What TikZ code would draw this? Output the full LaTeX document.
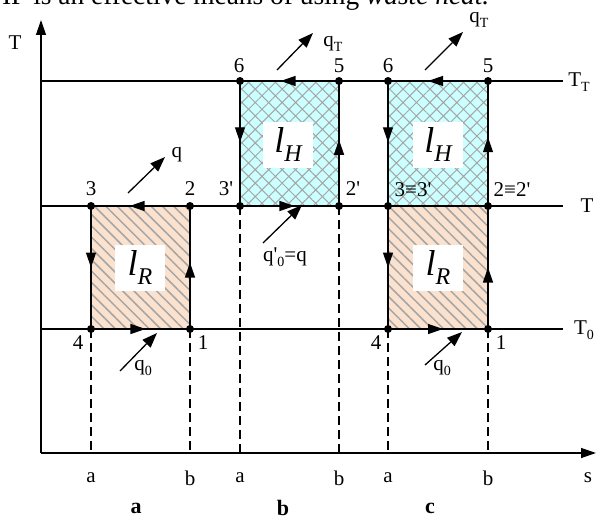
\documentclass[tikz,border=0pt]{standalone}
\usepackage{fontspec}
\setmainfont{Liberation Serif}
\usetikzlibrary{arrows.meta,patterns.meta,decorations.markings}
\definecolor{peach}{RGB}{251,226,207}
\definecolor{cyanfill}{RGB}{204,255,255}
\definecolor{hatchgray}{RGB}{165,165,165}
\newcommand{\mysub}[1]{\raisebox{-0.22em}{\fontsize{14}{14}\selectfont #1}}
\newcommand{\bigsub}[1]{\raisebox{-0.25em}{\fontsize{24}{24}\selectfont\itshape #1}}
\newcommand{\pr}{\textquotesingle}
\begin{document}
\begin{tikzpicture}[x=1pt,y=-1pt,line width=1.3pt,
  lbl/.style={font=\fontsize{21}{23}\selectfont, inner sep=0pt},
  axlbl/.style={font=\fontsize{21}{23}\selectfont, inner sep=0pt},
  cyclbl/.style={font=\fontsize{22}{24}\selectfont\bfseries, inner sep=0pt},
  lbox/.style={fill=white, inner sep=0pt, minimum width=50pt, minimum height=46pt, font=\fontsize{36}{38}\selectfont\itshape},
  dot/.style={circle, fill=black, inner sep=0pt, minimum size=8pt},
  hatchR/.style={fill=peach, postaction={pattern={Lines[angle=-45,distance=8pt,line width=1.5pt]}, pattern color=hatchgray}},
  hatchH/.style={fill=cyanfill, postaction={pattern={Hatch[angle=45,distance=9.5pt,line width=1pt]}, pattern color=hatchgray}},
  axis/.style={-{Triangle[length=15pt,width=10pt]}},
  heat/.style={-{Triangle[length=15pt,width=11pt]}},
  dashline/.style={dash pattern=on 9pt off 5pt},
  midarrow/.style={postaction={decorate, decoration={markings, mark=at position #1 with {\arrow{Triangle[length=15pt,width=10pt]}}}}}
]
\useasboundingbox (0,0) rectangle (598,519);

% clipped caption fragment at the top
\begin{scope}
\clip (0,0) rectangle (598,519);
\node[anchor=base east, inner sep=0pt, text depth=0pt, font=\fontsize{27.4}{30}\selectfont] (toptext) at (490,5) {HP is an effective means of using \textit{waste heat.}};
\end{scope}

% coordinates
\coordinate (O) at (41,453);
\coordinate (Ytip) at (41,20);
\coordinate (Xtip) at (596,453);
\coordinate (LTT) at (41,81);  \coordinate (RTT) at (563,81);
\coordinate (LT) at (41,206);  \coordinate (RT) at (563,206);
\coordinate (LT0) at (41,329); \coordinate (RT0) at (563,329);
% cycle a
\coordinate (a3) at (91,206);  \coordinate (a2) at (190,206);
\coordinate (a1) at (190,329); \coordinate (a4) at (91,329);
\coordinate (fa1) at (91,453); \coordinate (fb1) at (190,453);
% cycle b
\coordinate (b6) at (240,81);  \coordinate (b5) at (339,81);
\coordinate (b2) at (339,206); \coordinate (b3) at (240,206);
\coordinate (fa2) at (240,453); \coordinate (fb2) at (339,453);
% cycle c
\coordinate (c6) at (388,81);  \coordinate (c5) at (488,81);
\coordinate (c2) at (488,206); \coordinate (c3) at (388,206);
\coordinate (c1) at (488,329); \coordinate (c4) at (388,329);
\coordinate (fa3) at (388,453); \coordinate (fb3) at (488,453);

% fills
\path[hatchR] (a3) rectangle (a1);
\path[hatchH] (b6) rectangle (b2);
\path[hatchH] (c6) rectangle (c2);
\path[hatchR] (c3) rectangle (c1);

% axes and isotherms
\draw[axis] (O) -- (Ytip);
\draw[axis] (O) -- (Xtip);
\draw (LTT) -- (RTT);
\draw (LT) -- (RT);
\draw (LT0) -- (RT0);

% dashed verticals
\draw[dashline] (a4) -- (fa1);
\draw[dashline] (a1) -- (fb1);
\draw[dashline] (b3) -- (fa2);
\draw[dashline] (b2) -- (fb2);
\draw[dashline] (c4) -- (fa3);
\draw[dashline] (c1) -- (fb3);

% cycle a edges
\draw[midarrow=0.61] (a2) -- (a3);
\draw[midarrow=0.5] (a3) -- (a4);
\draw[midarrow=0.55] (a4) -- (a1);
\draw[midarrow=0.54] (a1) -- (a2);
% cycle b edges
\draw[midarrow=0.59] (b5) -- (b6);
\draw[midarrow=0.49] (b6) -- (b3);
\draw[midarrow=0.55] (b3) -- (b2);
\draw[midarrow=0.53] (b2) -- (b5);
% cycle c edges
\draw[midarrow=0.6] (c5) -- (c6);
\draw[midarrow=0.49] (c6) -- (c3);
\draw[midarrow=0.5] (c3) -- (c4);
\draw[midarrow=0.55] (c4) -- (c1);
\draw[midarrow=0.5] (c1) -- (c2);
\draw[midarrow=0.55] (c2) -- (c5);

% label boxes
\node[lbox] (lRa) at (140,268) {l\bigsub{R}};
\node[lbox] (lHb) at (288,145) {l\bigsub{H}};
\node[lbox] (lHc) at (438,145) {l\bigsub{H}};
\node[lbox] (lRc) at (438,268) {l\bigsub{R}};

% dots
\foreach \p in {a1,a2,a3,a4,b2,b3,b5,b6,c1,c2,c3,c4,c5,c6} \node[dot] at (\p) {};

% heat arrows
\coordinate (qas) at (128,193); \coordinate (qae) at (165,157);
\draw[heat] (qas) -- (qae);
\node[lbl, anchor=west] (qa) at (171,155) {q};
\coordinate (qbs) at (277,70); \coordinate (qbe) at (313,33);
\draw[heat] (qbs) -- (qbe);
\node[lbl] (qTb) at (333,44) {q\mysub{T}};
\coordinate (qcs) at (425,70); \coordinate (qce) at (463,32);
\draw[heat] (qcs) -- (qce);
\node[lbl] (qTc) at (479,20) {q\mysub{T}};
\coordinate (qps) at (263,243); \coordinate (qpe) at (302,205);
\draw[heat] (qps) -- (qpe);
\node[lbl] (qp) at (285,257) {q\pr\mysub{0}=q};
\coordinate (q0as) at (120,371); \coordinate (q0ae) at (157,333);
\draw[heat] (q0as) -- (q0ae);
\node[lbl] (q0a) at (143,368) {q\mysub{0}};
\coordinate (q0cs) at (425,365); \coordinate (q0ce) at (462,332);
\draw[heat] (q0cs) -- (q0ce);
\node[lbl] (q0c) at (442,368) {q\mysub{0}};

% point labels
\node[lbl] (n3a) at (91,189) {3};
\node[lbl] (n2a) at (190,189) {2};
\node[lbl] (n4a) at (78,343) {4};
\node[lbl] (n1a) at (203,343) {1};
\node[lbl] (n3b) at (226,189) {3\pr};
\node[lbl] (n2b) at (353,189) {2\pr};
\node[lbl] (n6b) at (239,66) {6};
\node[lbl] (n5b) at (339,66) {5};
\node[lbl] (n6c) at (388,66) {6};
\node[lbl] (n5c) at (488,66) {5};
\node[lbl] (n3c) at (413,190) {3≡3\pr};
\node[lbl] (n2c) at (512,190) {2≡2\pr};
\node[lbl] (n4c) at (376,343) {4};
\node[lbl] (n1c) at (501,343) {1};

% isotherm and axis labels
\node[lbl] (TT) at (579,82) {T\mysub{T}};
\node[lbl] (Tm) at (587,206) {T};
\node[lbl] (T0) at (584,330) {T\mysub{0}};
\node[lbl] (Tax) at (15,43) {T};
\node[axlbl] (s) at (588,478) {s};
\node[axlbl] (xa1) at (91,478) {a};
\node[axlbl] (xb1) at (190,478) {b};
\node[axlbl] (xa2) at (240,478) {a};
\node[axlbl] (xb2) at (339,478) {b};
\node[axlbl] (xa3) at (388,478) {a};
\node[axlbl] (xb3) at (488,478) {b};
\node[cyclbl] (ca) at (136,508) {a};
\node[cyclbl] (cb) at (283,508) {b};
\node[cyclbl] (cc) at (430,508) {c};
\end{tikzpicture}
\end{document}
